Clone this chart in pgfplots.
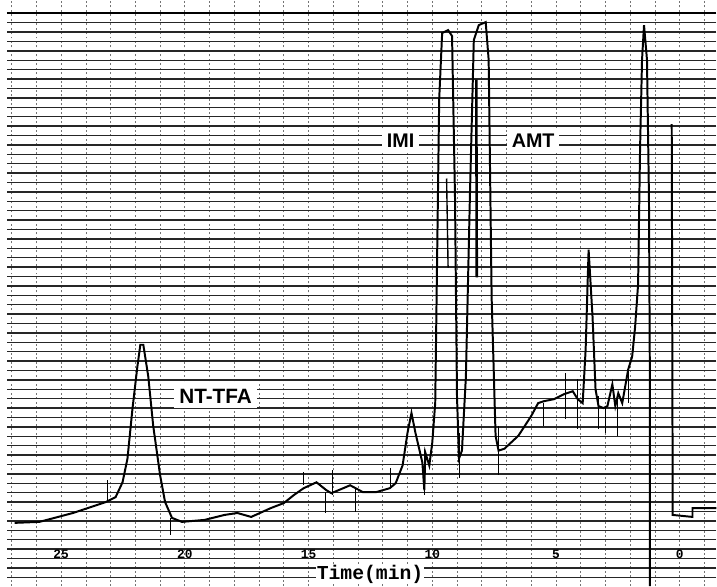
\documentclass[border=0pt]{standalone}
\usepackage{fontspec}
\setmainfont{Liberation Sans}
\newfontfamily\monofont{Liberation Mono}
\usepackage{pgfplots}
\usepackage{pgfplotstable}
\pgfplotsset{compat=1.18}

% chromatogram trace: time (min) vs detector response (arbitrary units)
\pgfplotstableread{
t y
26.88 64
25.88 65
24.52 74
23.20 85
22.80 90
22.52 105
22.32 129
22.12 179
21.92 222
21.80 244
21.68 244
21.48 212
21.28 162
21.00 112
20.80 85
20.52 69
20.12 65
19.20 67
18.40 72
17.88 74
17.32 70
16.52 79
16.00 84
15.60 92
15.20 99
14.68 105
14.28 97
14.08 94
13.60 99
13.32 102
12.80 95
12.28 95
11.72 99
11.48 104
11.20 122
11.00 155
10.84 175
10.68 155
10.40 125
10.32 97
10.28 135
10.12 122
10.00 145
9.88 185
9.72 492
9.60 559
9.36 562
9.20 556
9.08 392
9.00 192
8.92 129
8.80 137
8.64 212
8.48 392
8.32 552
8.12 567
7.84 570
7.72 532
7.60 292
7.44 152
7.32 137
7.08 139
6.52 152
6.00 172
5.72 185
5.48 187
5.08 189
4.68 194
4.32 197
4.12 189
3.92 185
3.80 239
3.68 340
3.52 272
3.40 199
3.28 182
3.08 180
2.92 182
2.72 204
2.60 182
2.48 195
2.32 185
2.20 202
2.08 219
1.92 232
1.80 262
1.68 305
1.60 442
1.52 532
1.44 567
1.32 532
1.24 392
1.20 192
1.20 0
}\trace

\pgfplotstableread{
t y
0.32 467
0.28 72
-0.52 70
-0.52 79
-1.48 79
}\tracetail

\begin{document}
\begin{tikzpicture}
\begin{axis}[
  scale only axis,
  width=717bp, height=592bp,
  x dir=reverse,
  xmin=-1.48, xmax=27.2,
  ymin=0, ymax=592,
  axis line style={draw=none},
  tick style={draw=none},
  xtick={0,5,10,15,20,25},
  minor xtick={-1,0,...,27},
  ytick={9,18.5,...,580},
  yticklabels={},
  /pgf/number format/assume math mode=true,
  xmajorgrids, xminorgrids, ymajorgrids,
  major x grid style={black!55, line width=0.8bp, dash pattern=on 2bp off 2.5bp},
  minor x grid style={black!55, line width=0.8bp, dash pattern=on 2bp off 2.5bp},
  major y grid style={black!85, line width=1.5bp},
  xticklabel style={font=\monofont\bfseries\fontsize{13}{14}\selectfont, anchor=base, yshift=28bp},
  xlabel={Time(min)},
  xlabel style={at={(axis description cs:0.512,0.012)}, anchor=base,
    font=\monofont\bfseries\fontsize{20}{22}\selectfont, fill=white, inner sep=1bp},
  clip=true,
]
% top border of chart paper
\addplot[black, line width=2.5bp, forget plot] coordinates {(27.2,579) (-1.48,579)};
% detector trace
\addplot[black, line width=2bp] table {\trace};
\addplot[black, line width=2bp] table {\tracetail};
% doubled pen strokes inside the IMI and AMT peaks
\addplot[black, line width=1.4bp] coordinates {(9.42,412) (9.36,322)};
\addplot[black, line width=2.6bp] coordinates {(8.22,512) (8.20,312)};
% event marks on the trace
\addplot[black, line width=1bp, unbounded coords=jump] coordinates {
(23.12,107) (23.12,87) (nan,nan)
(20.60,69) (20.60,52) (nan,nan)
(15.20,115) (15.20,102) (nan,nan)
(14.32,95) (14.32,74) (nan,nan)
(14.04,117) (14.04,92) (nan,nan)
(13.12,100) (13.12,75) (nan,nan)
(11.68,119) (11.68,99) (nan,nan)
(10.32,139) (10.32,92) (nan,nan)
(8.88,155) (8.88,109) (nan,nan)
(7.32,162) (7.32,112) (nan,nan)
(5.52,185) (5.52,162) (nan,nan)
(4.60,215) (4.60,169) (nan,nan)
(4.12,209) (4.12,159) (nan,nan)
(3.28,192) (3.28,159) (nan,nan)
(3.00,182) (3.00,155) (nan,nan)
(2.52,192) (2.52,152) (nan,nan)
(2.08,222) (2.08,185)
};
% peak labels
\node[fill=white, inner sep=5bp, font=\bfseries\fontsize{21}{22}\selectfont] at (axis cs:18.76,192) {NT-TFA};
\node[fill=white, inner sep=5bp, font=\bfseries\fontsize{20}{22}\selectfont] at (axis cs:11.28,450) {IMI};
\node[fill=white, inner sep=5bp, font=\bfseries\fontsize{20}{22}\selectfont] at (axis cs:5.92,450) {AMT};
\end{axis}
\end{tikzpicture}
\end{document}
